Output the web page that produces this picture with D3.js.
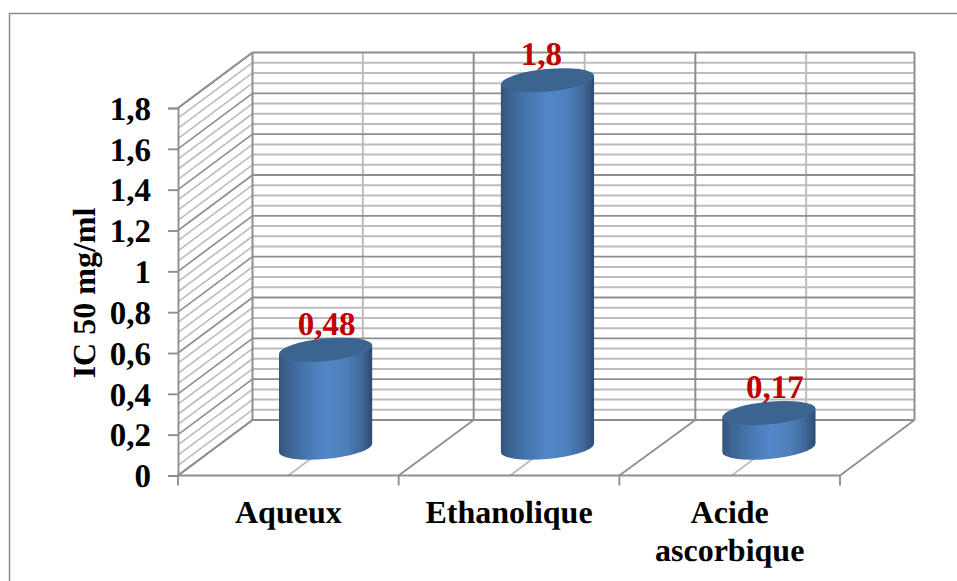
<!DOCTYPE html>
<html>
<head>
<meta charset="utf-8">
<title>IC 50 mg/ml</title>
<script src="https://cdn.jsdelivr.net/npm/d3@7/dist/d3.min.js"></script>
<style>
html,body{margin:0;padding:0;background:#fff;overflow:hidden}
text{font-family:"Liberation Serif",serif;font-weight:bold;text-rendering:geometricPrecision}
</style>
</head>
<body>
<script>
// Extract types and their IC50 values
const categories = ["Aqueux", "Ethanolique", "Acide ascorbique"];
const categoryLines = [["Aqueux"], ["Ethanolique"], ["Acide", "ascorbique"]];
const ic50Values = [0.48, 1.8, 0.17];
const valueLabels = ["0,48", "1,8", "0,17"];
const majorTicks = [0, 0.2, 0.4, 0.6, 0.8, 1, 1.2, 1.4, 1.6, 1.8];
const tickLabels = ["0", "0,2", "0,4", "0,6", "0,8", "1", "1,2", "1,4", "1,6", "1,8"];
const minorTicks = d3.range(0, 37).map(i => i * 0.05);
const axisTitle = "IC 50 mg/ml";

const W = 957, H = 581;
// Front plane of the 3D box, and the offset from front to back wall
const left = 178, right = 840, floorY = 475.5, topY = 108;
const depthX = 74.5, depthY = -55.5;
// Small per-category drift of the depth gridlines and cylinders
const centreShift = [0, 1.2, 2];
const backBoundaryShift = [0, 0.5, 1.5, 0];

const x = d3.scaleBand().domain(categories).range([left, right]);
const y = d3.scaleLinear().domain([0, 1.8]).range([floorY, topY]);

const svg = d3.select("body").append("svg").attr("width", W).attr("height", H).style("display", "block");

const GRID_MAJOR = "#8f8f8f", GRID_MINOR = "#bcbcbc";

// Chart frame: open on the right, runs off the bottom
svg.append("path").attr("fill", "none").attr("stroke", "#8c8c8c").attr("stroke-width", 1.5)
  .attr("d", `M9.5,${H}V13.5H${W}`);

const seg = (g, x1, y1, x2, y2, color, w) => g.append("line")
  .attr("x1", x1).attr("y1", y1).attr("x2", x2).attr("y2", y2)
  .attr("stroke", color).attr("stroke-width", w);

const grid = svg.append("g");

// Horizontal gridlines on the back and side walls
minorTicks.forEach(v => {
  const isMajor = Math.abs(v / 0.2 - Math.round(v / 0.2)) < 1e-6;
  if (isMajor) return;
  const py = y(v);
  seg(grid, left, py, left + depthX, py + depthY, GRID_MINOR, 1.6);
  seg(grid, left + depthX, py + depthY, right + depthX, py + depthY, GRID_MINOR, 2);
});

// Vertical gridlines at category centres: floor and back wall
categories.forEach((c, i) => {
  const cx = x(c) + x.bandwidth() / 2 + centreShift[i];
  seg(grid, cx, floorY, cx + depthX, floorY + depthY, GRID_MINOR, 1.8);
  seg(grid, cx + depthX, floorY + depthY, cx + depthX, topY + depthY, GRID_MINOR, 2);
});

majorTicks.forEach(v => {
  const py = y(v);
  seg(grid, left, py, left + depthX, py + depthY, GRID_MAJOR, 1.7);
  seg(grid, left + depthX, py + depthY, right + depthX, py + depthY, GRID_MAJOR, 1.9);
});

// Category boundaries: floor and back wall
x.domain().map(c => x(c)).concat(right).forEach((px, i) => {
  const bx = px + depthX + backBoundaryShift[i];
  seg(grid, px, floorY, bx, floorY + depthY, GRID_MAJOR, 1.8);
  seg(grid, bx, floorY + depthY, bx, topY + depthY, GRID_MAJOR, 2);
});

// Top edge of the side wall
seg(grid, left, topY, left + depthX, topY + depthY, GRID_MAJOR, 1.7);

// Value axis with its outward ticks
const axisY = svg.append("g").attr("transform", `translate(${left},0)`)
  .call(d3.axisLeft(y).tickValues(majorTicks).tickSize(10).tickPadding(17)
    .tickFormat((d, i) => tickLabels[i]));
axisY.selectAll(".domain,line").attr("stroke", GRID_MAJOR).attr("stroke-width", 1.9);
axisY.selectAll("text").attr("fill", "#000").attr("font-size", 33)
  .attr("font-family", '"Liberation Serif",serif').attr("font-weight", "bold").attr("dy", "0.34em");

// Category axis
seg(svg, left, floorY, right, floorY, GRID_MAJOR, 1.9);
x.domain().map(c => x(c)).concat(right).forEach(px => seg(svg, px, floorY, px, floorY + 10, GRID_MAJOR, 1.9));

categories.forEach((c, i) => {
  const t = svg.append("text").attr("text-anchor", "middle").attr("font-size", 32).attr("fill", "#000");
  categoryLines[i].forEach((ln, k) => {
    t.append("tspan").attr("x", x(c) + x.bandwidth() / 2).attr("y", 523 + k * 38).text(ln);
  });
});

// Axis title
svg.append("text").attr("transform", "translate(95,293) rotate(-90)")
  .attr("text-anchor", "middle").attr("font-size", 32).attr("fill", "#000").text(axisTitle);

// Cylinder shading: dark only near the rims, brightest at the middle
const defs = svg.append("defs");
const grad = defs.append("linearGradient").attr("id", "cyl").attr("x1", 0).attr("x2", 1).attr("y1", 0).attr("y2", 0);
[[0, "#335479"], [0.1, "#3c6494"], [0.28, "#4676ae"], [0.5, "#5286c8"], [0.72, "#4d80bb"], [0.88, "#41699b"], [1, "#2d4b70"]]
  .forEach(([o, col]) => grad.append("stop").attr("offset", o).attr("stop-color", col));

// Tilted ellipse used for both cylinder caps
const rx = 46.8, ry = 11.3, tilt = -5.5 * Math.PI / 180;
const tExt = Math.atan(-(ry / rx) * Math.tan(tilt));
const extX = rx * Math.cos(tExt) * Math.cos(tilt) - ry * Math.sin(tExt) * Math.sin(tilt);
const extY = rx * Math.cos(tExt) * Math.sin(tilt) + ry * Math.sin(tExt) * Math.cos(tilt);
const tiltDeg = tilt * 180 / Math.PI;

// Value labels sit slightly off the cylinder axis
const labelShift = [1, -6, 6];

const bars = svg.append("g");
categories.forEach((c, i) => {
  const v = ic50Values[i];
  const cx = x(c) + x.bandwidth() / 2 + depthX / 2 + centreShift[i];
  const by = y(0) + depthY / 2;
  const ty = y(v) + depthY / 2;
  bars.append("path").attr("fill", "url(#cyl)")
    .attr("d", `M${cx - extX},${ty - extY}L${cx - extX},${by - extY}` +
      `A${rx},${ry} ${tiltDeg} 0 0 ${cx + extX},${by + extY}` +
      `L${cx + extX},${ty + extY}Z`);
  bars.append("ellipse").attr("cx", 0).attr("cy", 0).attr("rx", rx).attr("ry", ry)
    .attr("transform", `translate(${cx},${ty}) rotate(${tiltDeg})`).attr("fill", "#3c6491");
  svg.append("text").attr("x", cx + labelShift[i]).attr("y", ty - 15).attr("text-anchor", "middle")
    .attr("font-size", 33).attr("fill", "#c00000").text(valueLabels[i]);
});
</script>
</body>
</html>
